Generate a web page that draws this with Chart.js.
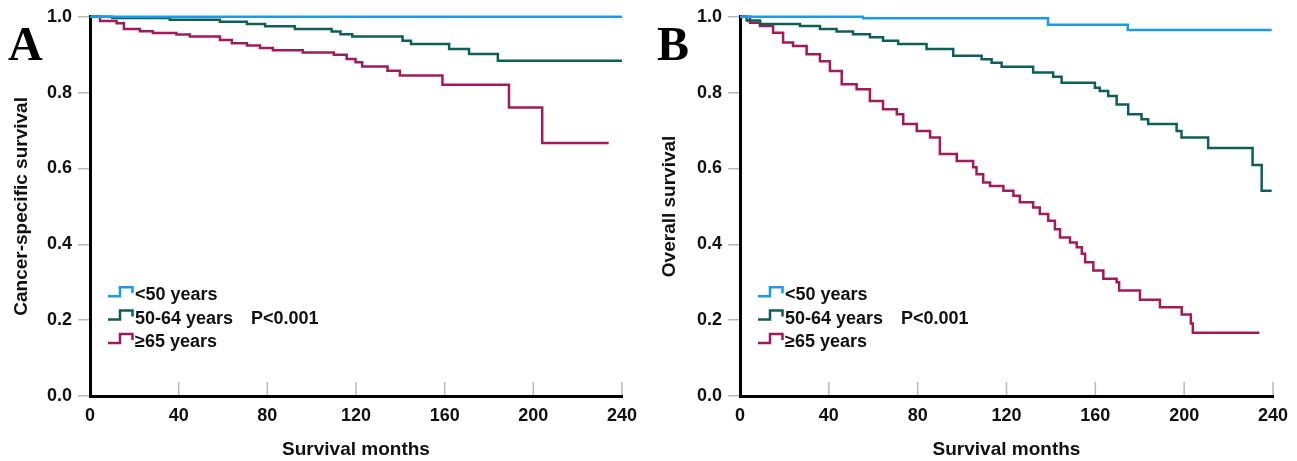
<!DOCTYPE html>
<html>
<head>
<meta charset="utf-8">
<script src="https://cdn.jsdelivr.net/npm/chart.js@4.4.1/dist/chart.umd.min.js"></script>
<style>
  html, body { margin: 0; padding: 0; background: #fff; }
  #wrap { position: relative; width: 1297px; height: 461px; overflow: hidden; }
  canvas { position: absolute; top: 0; }
  #chartA { left: 0; }
  #chartB { left: 648px; }
</style>
</head>
<body>
<div id="wrap">
  <canvas id="chartA" width="648" height="461"></canvas>
  <canvas id="chartB" width="649" height="461"></canvas>
</div>
<script>
// axis ticks and group names
const monthTicks = [0, 40, 80, 120, 160, 200, 240];
const groups = ['<50 years', '50-64 years', '\u226565 years'];
const pText = 'P<0.001';

// Panel A - cancer-specific survival (month, survival)
const monthsA_lt50 = [0, 240];
const survA_lt50 = [1, 1];
const monthsA_50to64 = [0, 10, 36, 58.6, 70.8, 79, 92.4, 109, 113, 118.3, 141, 144.8, 162, 171, 184, 240];
const survA_50to64 = [1, 0.997, 0.992, 0.987, 0.981, 0.975, 0.968, 0.961, 0.954, 0.948, 0.937, 0.928, 0.915, 0.902, 0.884, 0.884];
const monthsA_ge65 = [0, 4.5, 12, 15.3, 22.5, 28.4, 39, 45, 58.6, 64, 70.8, 76.7, 82.5, 96, 110, 115.8, 119.8, 122.8, 134.2, 139.8, 159, 189, 204, 234];
const survA_ge65 = [1, 0.989, 0.983, 0.968, 0.962, 0.957, 0.953, 0.948, 0.939, 0.930, 0.924, 0.918, 0.912, 0.906, 0.900, 0.889, 0.880, 0.869, 0.858, 0.845, 0.821, 0.761, 0.667, 0.667];

// Panel B - overall survival
const monthsB_lt50 = [0, 55.4, 138.7, 174.6, 239.4];
const survB_lt50 = [1, 0.996, 0.979, 0.965, 0.965];
const monthsB_50to64 = [0, 3, 9, 27, 36, 43.5, 50.9, 58.5, 64.4, 71.2, 84, 96, 108.8, 113.3, 117.8, 132, 141, 144.8, 159.8, 162, 165.8, 169.6, 174.8, 180.8, 183.8, 196.6, 198.8, 210.8, 230.8, 234.9, 239.4];
const survB_50to64 = [1, 0.99, 0.981, 0.976, 0.968, 0.961, 0.954, 0.946, 0.937, 0.928, 0.915, 0.897, 0.888, 0.879, 0.868, 0.853, 0.842, 0.826, 0.813, 0.804, 0.791, 0.769, 0.743, 0.730, 0.717, 0.699, 0.682, 0.654, 0.609, 0.541, 0.541];
const monthsB_ge65 = [0, 4.5, 9, 14.9, 19.4, 23.9, 30, 36, 40.5, 45.8, 52.5, 58.5, 64.4, 70.6, 73.5, 79.6, 85.6, 90, 97.6, 105, 106.5, 109.5, 112.6, 118.6, 123.1, 126, 132, 135, 138.8, 141.8, 144.1, 148.6, 151.6, 153.9, 155.4, 159.1, 163.6, 169.6, 170.7, 180.1, 189.1, 198.9, 203, 203.9, 233.9];
const survB_ge65 = [1, 0.984, 0.976, 0.958, 0.932, 0.923, 0.901, 0.883, 0.857, 0.822, 0.809, 0.778, 0.756, 0.743, 0.717, 0.699, 0.682, 0.638, 0.620, 0.603, 0.585, 0.563, 0.554, 0.541, 0.528, 0.511, 0.497, 0.480, 0.462, 0.440, 0.418, 0.405, 0.392, 0.375, 0.353, 0.331, 0.309, 0.300, 0.278, 0.254, 0.234, 0.215, 0.191, 0.167, 0.167];

const colors = ['#1a9be6', '#0e5f57', '#a31a5b'];
const sansBold = 'bold 18px "Liberation Sans", Arial, sans-serif';

const toPoints = (months, surv) => months.map((m, i) => ({ x: m, y: surv[i] }));

// draws inward x ticks, the step legend and the panel letter
const kmDecor = {
  id: 'kmDecor',
  afterDraw(chart, args, opts) {
    const { ctx, chartArea: a, scales: { x } } = chart;
    ctx.save();
    ctx.strokeStyle = '#b8b8b8';
    ctx.lineWidth = 1.5;
    monthTicks.forEach(m => {
      if (m === 0) return;
      const px = x.getPixelForValue(m);
      ctx.beginPath();
      ctx.moveTo(px, a.bottom - 1);
      ctx.lineTo(px, a.bottom - 14);
      ctx.stroke();
    });

    ctx.font = sansBold;
    ctx.textBaseline = 'alphabetic';
    ctx.lineWidth = 2.5;
    groups.forEach((g, i) => {
      const b = a.top + 283.5 + i * 23.3;
      const x0 = a.left + 18;
      ctx.strokeStyle = colors[i];
      ctx.beginPath();
      ctx.moveTo(x0, b - 4);
      ctx.lineTo(x0 + 12, b - 4);
      ctx.lineTo(x0 + 12, b - 13);
      ctx.lineTo(x0 + 24.5, b - 13);
      ctx.lineTo(x0 + 24.5, b - 7);
      ctx.stroke();
      ctx.fillStyle = '#111';
      ctx.fillText(g, x0 + 27, b);
      if (i === 1) ctx.fillText(pText, a.left + 161, b);
    });

    ctx.font = 'bold 48px "Liberation Serif", "Times New Roman", serif';
    ctx.fillStyle = '#000';
    ctx.fillText(opts.letter, opts.letterX, 60);
    ctx.restore();
  }
};

function makeChart(id, seriesMonths, seriesSurv, yTitle, letter, letterX, axisWidth, rightPad) {
  const datasets = groups.map((g, i) => ({
    label: g,
    data: toPoints(seriesMonths[i], seriesSurv[i]),
    borderColor: colors[i],
    borderWidth: 2.5,
    stepped: true,
    pointRadius: 0,
    fill: false,
    clip: 6
  }));
  return new Chart(document.getElementById(id).getContext('2d'), {
    type: 'line',
    data: { datasets },
    plugins: [kmDecor],
    options: {
      responsive: false,
      animation: false,
      layout: { padding: { left: 0, top: 16, right: rightPad, bottom: 0 } },
      plugins: {
        legend: { display: false },
        tooltip: { enabled: false },
        kmDecor: { letter, letterX }
      },
      scales: {
        x: {
          type: 'linear',
          min: 0,
          max: 240,
          afterBuildTicks: s => { s.ticks = monthTicks.map(v => ({ value: v })); },
          afterFit: s => { s.height = 65; },
          grid: { display: false },
          border: { display: true, color: '#000', width: 3 },
          ticks: { color: '#111', font: { family: '"Liberation Sans", Arial', size: 18, weight: 'bold' }, padding: 1, maxRotation: 0 },
          title: { display: true, text: 'Survival months', color: '#111', font: { family: '"Liberation Sans", Arial', size: 19, weight: 'bold' }, padding: 0 }
        },
        y: {
          type: 'linear',
          min: 0,
          max: 1,
          afterFit: s => { s.width = axisWidth; },
          ticks: { stepSize: 0.2, color: '#111', font: { family: '"Liberation Sans", Arial', size: 18, weight: 'bold' }, padding: 6, callback: v => v.toFixed(1) },
          grid: { drawOnChartArea: false, drawTicks: true, tickLength: 12, color: '#b8b8b8', lineWidth: 1.5 },
          border: { display: true, color: '#000', width: 3 },
          title: { display: true, text: yTitle, color: '#111', font: { family: '"Liberation Sans", Arial', size: 19, weight: 'bold' }, padding: { top: 10, bottom: 0 } }
        }
      }
    }
  });
}

makeChart('chartA',
  [monthsA_lt50, monthsA_50to64, monthsA_ge65],
  [survA_lt50, survA_50to64, survA_ge65],
  'Cancer-specific survival', 'A', 8, 90, 26);

makeChart('chartB',
  [monthsB_lt50, monthsB_50to64, monthsB_ge65],
  [survB_lt50, survB_50to64, survB_ge65],
  'Overall survival', 'B', 9, 92, 24);
</script>
</body>
</html>
